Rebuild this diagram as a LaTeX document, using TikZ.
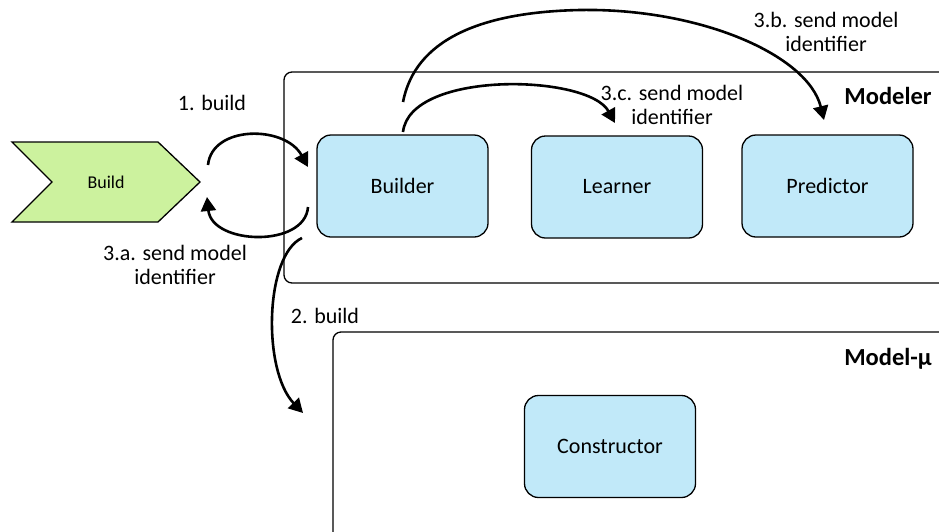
\documentclass[tikz,border=0pt]{standalone}
\usepackage{fontspec}
\setmainfont{Carlito}
\usetikzlibrary{arrows.meta}
\definecolor{boxblue}{HTML}{C1E9F9}
\definecolor{chevgreen}{HTML}{CCF29E}
\begin{document}
\begin{tikzpicture}[x=1pt,y=-1pt,
  comp/.style={draw, line width=1.3pt, fill=boxblue, rounded corners=14pt,
    minimum width=171pt, minimum height=102pt, inner sep=0pt,
    font=\fontsize{22}{24}\selectfont},
  frame/.style={draw, line width=1.3pt, rounded corners=8pt},
  lbl/.style={font=\fontsize{22}{24}\selectfont, align=center, inner sep=0pt},
  ttl/.style={font=\fontsize{24.5}{28}\selectfont\bfseries, inner sep=0pt},
  flow/.style={line width=2.6pt, -{Triangle[length=14pt,width=15pt]}}]
\useasboundingbox (0,0) rectangle (939,531);
\clip (0,0) rectangle (939,531);

% containers
\draw[frame] (284,72) rectangle (980,283);
\draw[frame] (333,332) rectangle (980,580);
\node[ttl, anchor=base] (modelerT) at (888,104) {Modeler};
\node[ttl, anchor=base] (modelmuT) at (888,365) {Model-µ};

% build step
\draw[line width=1.3pt, fill=chevgreen]
  (12,142) -- (158,142) -- (200,182) -- (158,222) -- (12,222) -- (52,182) -- cycle;
\node[font=\fontsize{18}{20}\selectfont] (build) at (106,182) {Build};

% components
\node[comp] (builder) at (402.5,186) {Builder};
\node[comp] (learner) at (617,187) {Learner};
\node[comp] (predictor) at (827.5,186) {Predictor};
\node[comp] (constructor) at (610,446.5) {Constructor};

% connector ends
\coordinate (a1s) at (208,165);
\coordinate (a1e) at (308,167);
\coordinate (a3as) at (308,207);
\coordinate (a3ae) at (207,197);
\coordinate (a3cs) at (403,132);
\coordinate (a3ce) at (615,123);
\coordinate (a3bs) at (403,102);
\coordinate (a3bm) at (580,10);
\coordinate (a3be) at (824,120);
\coordinate (a2s) at (302,238);
\coordinate (a2e) at (303,413);

% connectors
\draw[flow] (a1s) .. controls (212,125) and (285,125) .. (a1e);
\draw[flow] (a3as) .. controls (305,248) and (212,245) .. (a3ae);
\draw[flow] (a3cs) .. controls (410,70) and (588,74) .. (a3ce);
\draw[flow] (a3bs) .. controls (415,40) and (480,12) .. (a3bm)
  .. controls (700,8) and (808,55) .. (a3be);
\draw[flow] (a2s) .. controls (265,255) and (262,370) .. (a2e);

% connector labels
\node[lbl, anchor=base] (l1) at (212,110) {1. build};
\node[lbl, anchor=base] (l2) at (325,323) {2. build};
\node[lbl] (l3a) at (175,265) {3.a. send model\\identifier};
\node[lbl] (l3b) at (826,32) {3.b. send model\\identifier};
\node[lbl] (l3c) at (672,105) {3.c. send model\\identifier};
\end{tikzpicture}
\end{document}
